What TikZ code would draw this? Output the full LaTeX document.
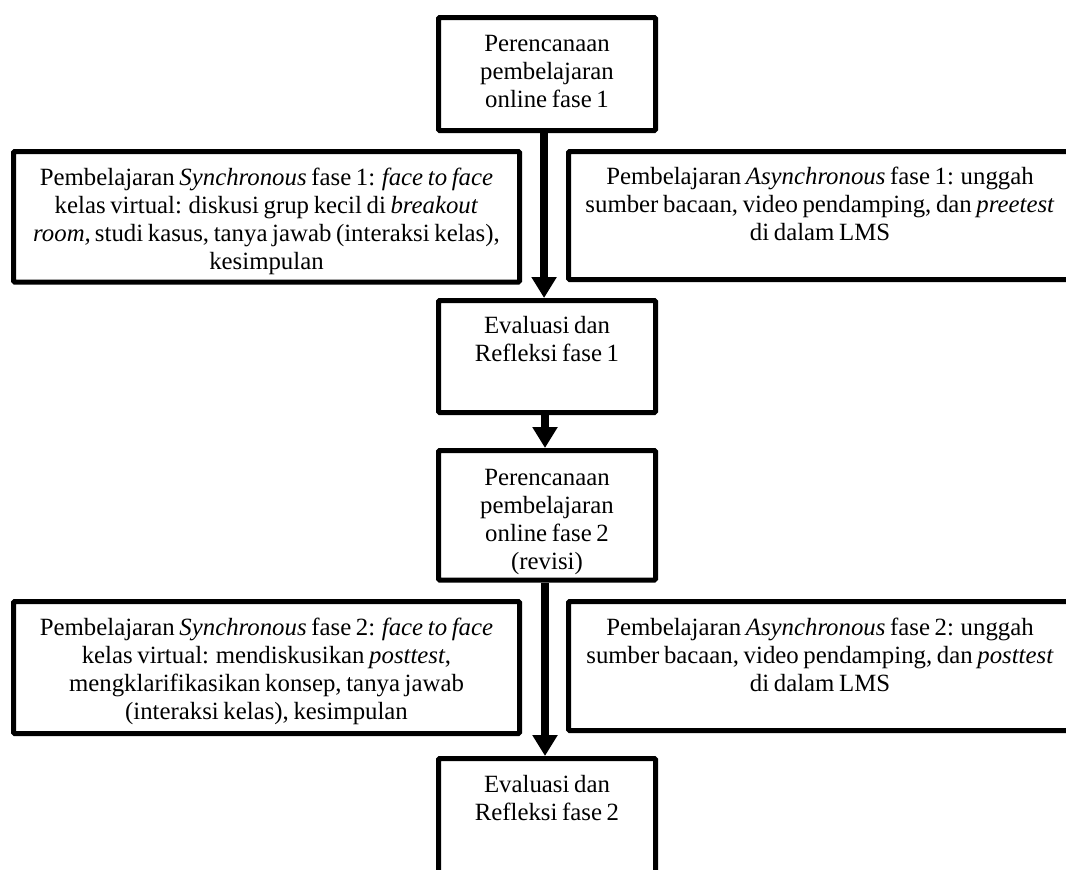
\documentclass[tikz,border=0pt]{standalone}
\usepackage{fontspec}
\setmainfont[WordSpace=0.75]{Liberation Serif}
\usetikzlibrary{arrows.meta}
\begin{document}
\begin{tikzpicture}[x=0.75pt,y=-0.75pt,
  box/.style={draw=black, line width=3.75pt, rounded corners=0.8pt, inner sep=0pt},
  midbox/.style={box, minimum width=162.75pt},
  sidebox/.style={box},
  txt/.style={anchor=base, inner sep=0pt, font=\fontsize{18.6}{21.2}\selectfont},
  arr/.style={line width=6.4pt, -{Triangle[length=15.75pt,width=18pt]}}]
\clip (0,0) rectangle (1066,869);
% boxes
\node[midbox, minimum height=84.75pt] (b1) at (547,74) {};
\node[sidebox, minimum width=379.5pt, minimum height=97.875pt] (s1) at (266.5,216.75) {};
\node[sidebox, minimum width=377.25pt, minimum height=96pt] (a1) at (820,215.5) {};
\node[midbox, minimum height=84pt] (e1) at (547,356.5) {};
\node[midbox, minimum height=97.125pt] (p2) at (547,515.25) {};
\node[sidebox, minimum width=379.5pt, minimum height=99pt] (s2) at (266.5,667.5) {};
\node[sidebox, minimum width=377.25pt, minimum height=96.75pt] (a2) at (820,666) {};
\node[midbox, minimum height=106.125pt] (e2) at (547,829.25) {};
% texts
\node[txt] (t1) at (547,51) {\parbox[t]{160pt}{\centering Perencanaan\\pembelajaran\\online fase 1}};
\node[txt] (ts1) at (266.5,185) {\parbox[t]{370pt}{\centering Pembelajaran \textit{Synchronous} fase 1: \textit{face to face}\\kelas virtual: diskusi grup kecil di \textit{breakout}\\\textit{room,}\thinspace studi kasus, tanya jawab (interaksi kelas),\\kesimpulan}};
\node[txt] (ta1) at (820,184) {\parbox[t]{370pt}{\centering Pembelajaran \textit{Asynchronous} fase 1: unggah\\sumber bacaan, video pendamping, dan \textit{preetest}\\di dalam LMS}};
\node[txt] (te1) at (547,333) {\parbox[t]{160pt}{\centering Evaluasi dan\\Refleksi fase 1}};
\node[txt] (tp2) at (547,485) {\parbox[t]{160pt}{\centering Perencanaan\\pembelajaran\\online fase 2\\(revisi)}};
\node[txt] (ts2) at (266.5,635) {\parbox[t]{370pt}{\centering Pembelajaran \textit{Synchronous} fase 2: \textit{face to face}\\kelas virtual: mendiskusikan \textit{posttest},\\mengklarifikasikan konsep, tanya jawab\\(interaksi kelas), kesimpulan}};
\node[txt] (ta2) at (820,635) {\parbox[t]{370pt}{\centering Pembelajaran \textit{Asynchronous} fase 2: unggah\\sumber bacaan, video pendamping, dan \textit{posttest}\\di dalam LMS}};
\node[txt] (te2) at (547,792) {\parbox[t]{160pt}{\centering Evaluasi dan\\Refleksi fase 2}};
% arrows
\draw[arr] ([xshift=-2.2pt]b1.south) -- ([xshift=-2.2pt]e1.north);
\draw[arr] ([xshift=-1.5pt]e1.south) -- ([xshift=-1.5pt]p2.north);
\draw[arr] ([xshift=-1.5pt]p2.south) -- ([xshift=-1.5pt]e2.north);
\end{tikzpicture}
\end{document}
